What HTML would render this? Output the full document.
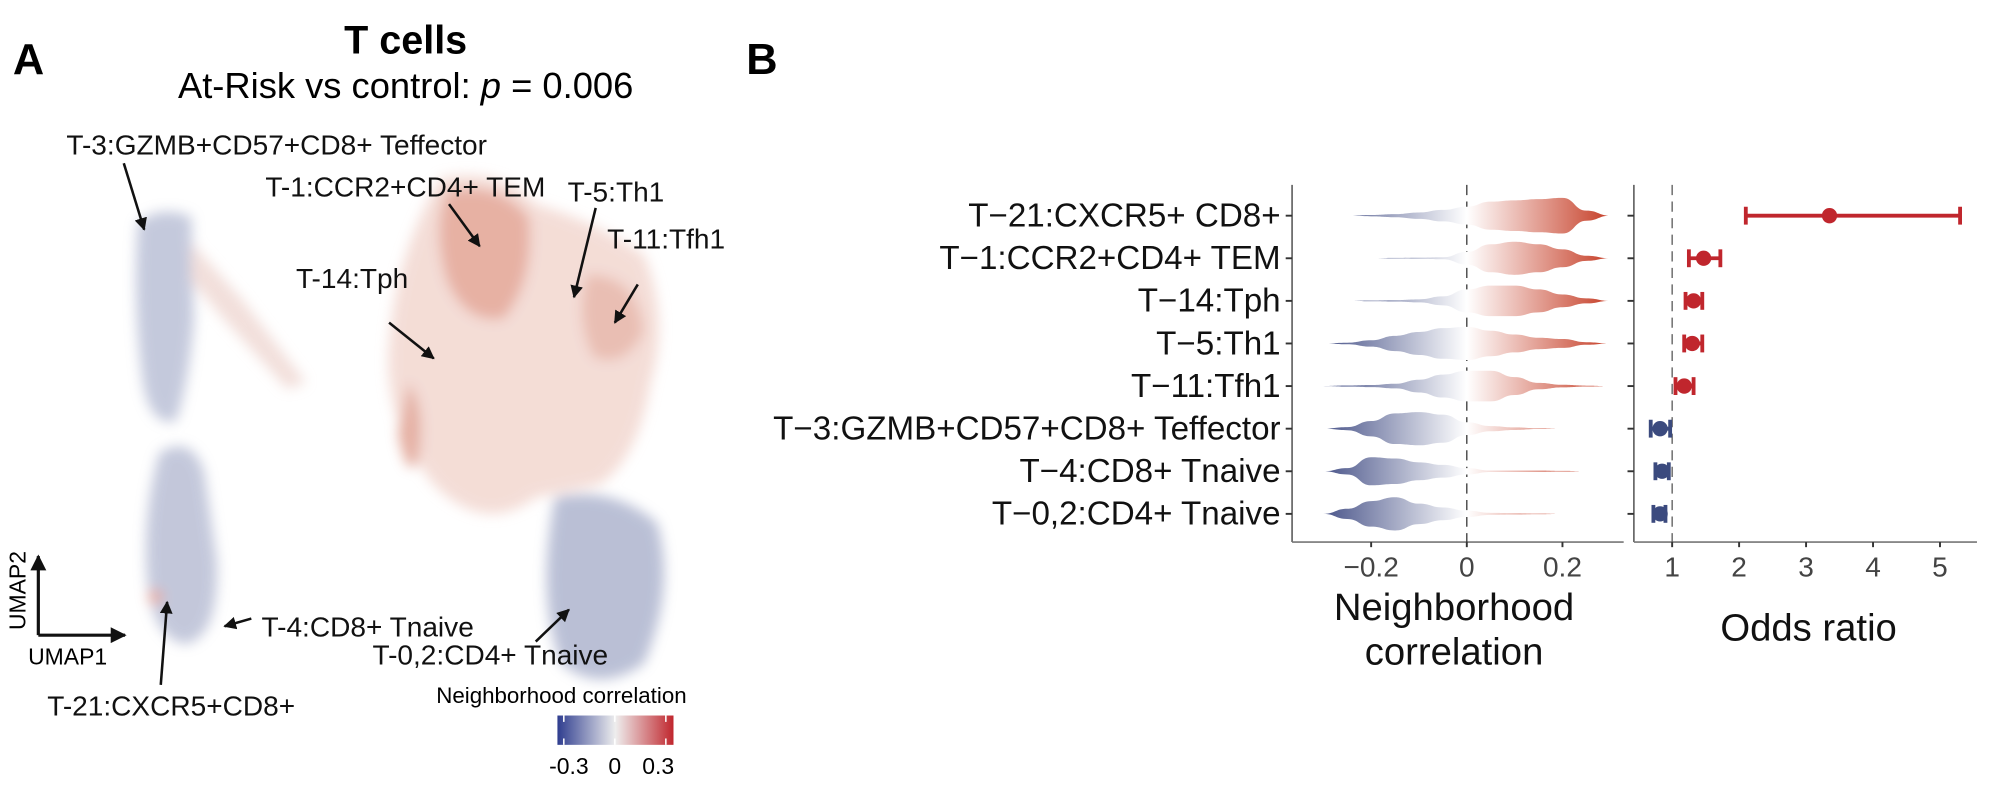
<!DOCTYPE html>
<html><head><meta charset="utf-8"><style>
html,body{margin:0;padding:0;background:#fff;}
svg{display:block;font-family:"Liberation Sans",Arial,sans-serif;}
</style></head><body>
<svg id="fig" width="2000" height="790" viewBox="0 0 1568 619.4" xmlns="http://www.w3.org/2000/svg">
<defs>
<linearGradient id="vg" gradientUnits="userSpaceOnUse" x1="1037.5" y1="0" x2="1262.5" y2="0">
<stop offset="0" stop-color="#4a558a"/><stop offset="0.5" stop-color="#ffffff"/><stop offset="1" stop-color="#c63f28"/>
</linearGradient>
<linearGradient id="cb" x1="0" y1="0" x2="1" y2="0">
<stop offset="0" stop-color="#2f3d8f"/><stop offset="0.5" stop-color="#eeeeee"/><stop offset="1" stop-color="#c0262d"/>
</linearGradient>
<filter id="blur" x="-20%" y="-20%" width="140%" height="140%"><feGaussianBlur stdDeviation="5"/></filter>
<marker id="ah" viewBox="0 0 10 10" refX="9" refY="5" markerWidth="5" markerHeight="5" orient="auto"><path d="M0,0 L10,5 L0,10 z" fill="#111"/></marker>
</defs>

<g>
<text x="10" y="58" font-size="34" font-weight="bold">A</text>
<text x="318" y="42" font-size="31" font-weight="bold" text-anchor="middle">T cells</text>
<text x="318" y="77" font-size="28.5" text-anchor="middle">At-Risk vs control: <tspan font-style="italic">p</tspan> = 0.006</text>

<g filter="url(#blur)" opacity="0.68">
<path d="M108,175 Q125,160 150,170 L152,250 Q148,300 138,330 Q118,335 112,300 Q104,240 108,175 Z" fill="#a9b0cc"/>
<path d="M150,190 L190,235 L240,300 L225,305 L175,250 L150,220 Z" fill="#ecd0ca"/>
<path d="M125,355 Q150,340 160,370 L170,440 Q172,500 145,505 Q118,500 115,450 Q112,400 125,355 Z" fill="#a7aeca"/>
<circle cx="122" cy="468" r="6" fill="#d9836f"/>
<path d="M345,140 Q390,130 420,160 Q470,175 505,200 Q525,250 510,300 Q500,360 470,380 L420,390 Q380,420 340,380 Q300,330 305,270 Q310,200 345,140 Z" fill="#efcdc4"/>
<path d="M350,150 Q390,140 415,170 Q420,220 395,250 Q365,255 350,220 Q338,180 350,150 Z" fill="#dd8d79"/>
<path d="M460,215 Q500,215 505,260 Q490,290 465,280 Q450,250 460,215 Z" fill="#e0a090"/>
<path d="M435,390 Q480,380 515,410 Q530,460 505,520 Q470,545 440,520 Q420,470 435,390 Z" fill="#9aa2c2"/>
<path d="M320,300 Q335,320 328,360 Q320,380 312,340 Z" fill="#d98b78"/>
</g>

<g stroke="#111" stroke-width="2.5" fill="none">
<line x1="30" y1="498" x2="30" y2="436" marker-end="url(#ah)"/>
<line x1="30" y1="498" x2="98" y2="498" marker-end="url(#ah)"/>
</g>
<text transform="translate(20,494) rotate(-90)" font-size="18">UMAP2</text>
<text x="22" y="521" font-size="18">UMAP1</text>

<g stroke="#111" stroke-width="2" marker-end="url(#ah)">
<line x1="97" y1="128" x2="113" y2="180"/>
<line x1="352" y1="160" x2="376" y2="193"/>
<line x1="467" y1="163" x2="450" y2="233"/>
<line x1="500" y1="223" x2="482" y2="253"/>
<line x1="305" y1="253" x2="340" y2="281"/>
<line x1="197" y1="485" x2="176" y2="491"/>
<line x1="420" y1="503" x2="446" y2="478"/>
<line x1="126" y1="537" x2="131" y2="472"/>
</g>
<g font-size="22" fill="#111">
<text x="52" y="121">T-3:GZMB+CD57+CD8+ Teffector</text>
<text x="208" y="154">T-1:CCR2+CD4+ TEM</text>
<text x="445" y="158">T-5:Th1</text>
<text x="476" y="195">T-11:Tfh1</text>
<text x="232" y="226">T-14:Tph</text>
<text x="205" y="499">T-4:CD8+ Tnaive</text>
<text x="292" y="521">T-0,2:CD4+ Tnaive</text>
<text x="37" y="561">T-21:CXCR5+CD8+</text>
</g>

<g>
<text x="342" y="551" font-size="17.5">Neighborhood correlation</text>
<rect x="437" y="561" width="91" height="23" fill="url(#cb)"/>
<g stroke="#fff" stroke-width="1.2"><line x1="442" y1="561" x2="442" y2="566"/><line x1="442" y1="579" x2="442" y2="584"/><line x1="482" y1="561" x2="482" y2="566"/><line x1="482" y1="579" x2="482" y2="584"/><line x1="522" y1="561" x2="522" y2="566"/><line x1="522" y1="579" x2="522" y2="584"/></g>
<g font-size="18" text-anchor="middle"><text x="446" y="607">-0.3</text><text x="482" y="607">0</text><text x="516" y="607">0.3</text></g>
</g>
</g>

<text x="585" y="58" font-size="34" font-weight="bold">B</text>
<g id="panelB"></g>
</svg>
<script>
const categories = ["T\u221221:CXCR5+ CD8+","T\u22121:CCR2+CD4+ TEM","T\u221214:Tph","T\u22125:Th1","T\u221211:Tfh1","T\u22123:GZMB+CD57+CD8+ Teffector","T\u22124:CD8+ Tnaive","T\u22120,2:CD4+ Tnaive"];
const densityGrid = [-0.3,-0.25,-0.2,-0.15,-0.1,-0.05,0,0.05,0.1,0.15,0.2,0.25,0.3];
const densityCXCR5 = [0,0,0.5,1.2,2.5,4.5,7,11,12,13,14,4,0];
const densityTEM = [0,0,0,0.3,0.5,0.8,5,11,13,11,7,2,0];
const densityTph = [0,0,0.3,0.6,1.2,3.5,9,12,12,9,5,2,0];
const densityTh1 = [0,0.6,2.5,6,9,12,13,10,7,4.5,3.5,1,0];
const densityTfh1 = [0,0.4,0.8,1.8,5,9,12,12,7,2.5,1,0.3,0];
const densityTeff = [0,1.2,6,12,13,11,5,2,1,0.3,0,0,0];
const densityT4 = [0,2.5,11,10,7,5,2.5,0.6,0.6,0.6,0.3,0,0];
const densityT02 = [0,4,10,13,8,5,2.5,0.8,0.6,0.3,0,0,0];
const oddsRatio = [3.35,1.47,1.32,1.3,1.18,0.82,0.85,0.82];
const oddsLow = [2.1,1.25,1.2,1.18,1.05,0.68,0.75,0.72];
const oddsHigh = [5.3,1.72,1.45,1.45,1.32,0.97,0.95,0.9];
const corrTicks = [-0.2,0,0.2];
const corrTickLabels = ["\u22120.2","0","0.2"];
const orTicks = [1,2,3,4,5];
const orTickLabels = ["1","2","3","4","5"];

const densities=[densityCXCR5,densityTEM,densityTph,densityTh1,densityTfh1,densityTeff,densityT4,densityT02];
const NS="http://www.w3.org/2000/svg";
const gB=document.getElementById('panelB');
function mk(tag,attrs){const el=document.createElementNS(NS,tag);for(const k in attrs)el.setAttribute(k,attrs[k]);gB.appendChild(el);return el;}
const xC=v=>1150+375*v;
const xO=v=>1258.5+52.5*v;
const yR=i=>169.1+33.4*i;
const yTop=145, yBot=425;

let e;
e=mk('line',{x1:1013,y1:yTop,x2:1013,y2:yBot,stroke:'#555','stroke-width':1.2});


e=mk('line',{x1:1013,y1:yBot,x2:1273,y2:yBot,stroke:'#777','stroke-width':1.2});


e=mk('line',{x1:1281,y1:yTop,x2:1281,y2:yBot,stroke:'#555','stroke-width':1.2});


e=mk('line',{x1:1281,y1:yBot,x2:1550,y2:yBot,stroke:'#777','stroke-width':1.2});


e=mk('line',{x1:xC(0),y1:yTop,x2:xC(0),y2:yBot,stroke:'#333','stroke-width':1,'stroke-dasharray':'8,5'});


e=mk('line',{x1:xO(1),y1:yTop,x2:xO(1),y2:yBot,stroke:'#555','stroke-width':1,'stroke-dasharray':'8,5'});



function smooth(pts){let d='';for(let i=1;i<pts.length;i++){const p0=pts[i-1],p1=pts[i];const mx=(p0[0]+p1[0])/2;d+=' C'+mx+','+p0[1]+' '+mx+','+p1[1]+' '+p1[0]+','+p1[1];}return d;}

categories.forEach((c,i)=>{
  const y=yR(i);
  e=mk('text',{x:1004,y:y+8.5,'font-size':26,'text-anchor':'end',fill:'#111'});
  e.textContent=c;
  
  
  mk('line',{x1:1008,y1:y,x2:1013,y2:y,stroke:'#333','stroke-width':1.5});
  mk('line',{x1:1276,y1:y,x2:1281,y2:y,stroke:'#333','stroke-width':1.5});
  const dens=densities[i];
  const upper=densityGrid.map((v,k)=>[xC(v),y-dens[k]]);
  const lower=densityGrid.map((v,k)=>[xC(v),y+dens[k]]).reverse();
  const d='M'+upper[0][0]+','+upper[0][1]+smooth(upper)+' L'+lower[0][0]+','+lower[0][1]+smooth(lower)+' Z';
  e=mk('path',{d:d,fill:'url(#vg)'});
  
  
  const col=oddsRatio[i]>=1?'#c0262d':'#3b4a7e';
  e=mk('line',{x1:xO(oddsLow[i]),y1:y,x2:xO(oddsHigh[i]),y2:y,stroke:col,'stroke-width':3});
  
  
  [oddsLow[i],oddsHigh[i]].forEach(v=>{mk('line',{x1:xO(v),y1:y-7,x2:xO(v),y2:y+7,stroke:col,'stroke-width':3});});
  e=mk('circle',{cx:xO(oddsRatio[i]),cy:y,r:6,fill:col});
  
  
});
corrTicks.forEach((v,k)=>{
  mk('line',{x1:xC(v),y1:yBot,x2:xC(v),y2:yBot+4,stroke:'#333','stroke-width':1.5});
  e=mk('text',{x:xC(v),y:yBot+27,'font-size':22,'text-anchor':'middle',fill:'#444'});
  e.textContent=corrTickLabels[k];
  
  
});
orTicks.forEach((v,k)=>{
  mk('line',{x1:xO(v),y1:yBot,x2:xO(v),y2:yBot+4,stroke:'#333','stroke-width':1.5});
  e=mk('text',{x:xO(v),y:yBot+27,'font-size':22,'text-anchor':'middle',fill:'#444'});
  e.textContent=orTickLabels[k];
  
  
});
e=mk('text',{x:1140,y:486,'font-size':30,'text-anchor':'middle',fill:'#111'});
e.textContent='Neighborhood';


e=mk('text',{x:1140,y:521,'font-size':30,'text-anchor':'middle',fill:'#111'});
e.textContent='correlation';


e=mk('text',{x:1418,y:502,'font-size':30,'text-anchor':'middle',fill:'#111'});
e.textContent='Odds ratio';


</script>
</body></html>
